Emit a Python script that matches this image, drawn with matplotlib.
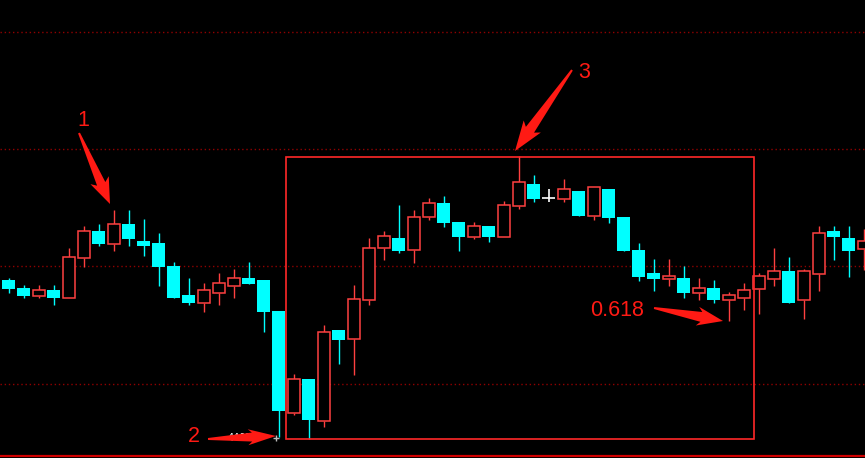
import numpy as np
import matplotlib
matplotlib.use("Agg")
import matplotlib.pyplot as plt
from matplotlib.patches import Rectangle, Polygon

# candle data (chart units, higher = higher price)
opens = [178, 170, 162, 168, 160, 200, 227, 214, 234, 217, 215, 192, 163, 155, 165, 172, 180, 178, 147, 45,
         79, 37, 128, 119, 158, 210, 220, 208, 241, 255, 236, 221, 232, 221, 252, 274, 260, 259, 267, 242,
         269, 241, 208, 185, 179, 180, 165, 170, 158, 160, 169, 179, 187, 158, 184, 227, 220, 209]
highs = [180, 173, 173, 173, 210, 232, 234, 248, 248, 239, 225, 196, 180, 175, 185, 189, 196, 178, 147, 84,
         79, 133, 128, 173, 220, 227, 253, 248, 260, 262, 236, 236, 232, 257, 302, 283, 269, 279, 267, 271,
         269, 241, 215, 199, 199, 192, 180, 178, 166, 175, 185, 210, 201, 189, 232, 232, 232, 229]
lows = [165, 160, 160, 153, 160, 191, 212, 207, 212, 202, 172, 160, 153, 146, 153, 160, 174, 126, 21, 43,
        19, 31, 94, 83, 153, 198, 205, 195, 238, 231, 207, 219, 216, 221, 249, 256, 256, 256, 242, 238,
        235, 207, 177, 167, 172, 160, 158, 155, 137, 148, 144, 172, 155, 139, 167, 198, 181, 188]
closes = [169, 162, 168, 160, 201, 227, 214, 234, 219, 212, 191, 160, 155, 168, 175, 180, 174, 146, 47, 79,
          38, 126, 118, 159, 210, 222, 207, 241, 255, 235, 221, 232, 221, 253, 276, 259, 260, 269, 242, 271,
          240, 207, 181, 179, 182, 165, 170, 158, 163, 168, 182, 187, 155, 187, 225, 221, 207, 217]

UP, DOWN, FLAT = "#ff4040", "#00ffff", "#ffffff"
ARROW = "#ff1a14"
W = 0.87

fig = plt.figure(figsize=(8.65, 4.58), dpi=100, facecolor="black")
ax = fig.add_axes([0, 0, 1, 1], facecolor="black")
ax.set_xlim(-0.567, 57.1)
ax.set_ylim(0, 458)
ax.axis("off")

# dotted grid + bottom border
for g in (426, 309, 192, 74):
    ax.axhline(g, color="#900000", lw=1, ls=(0, (1, 2)), zorder=0)
ax.axhline(2, color="#d00000", lw=1.6, zorder=0)

o, h, l, c = map(np.array, (opens, highs, lows, closes))
x = np.arange(len(o))
up, dn, fl = c > o, c < o, c == o

# bearish: filled cyan
ax.vlines(x[dn], l[dn], h[dn], color=DOWN, lw=1, zorder=2)
ax.bar(x[dn], (o - c)[dn], bottom=c[dn], width=W, color=DOWN, lw=0, zorder=3)
# bullish: hollow red, wicks stop at body
ax.vlines(x[up], c[up], h[up], color=UP, lw=1, zorder=2)
ax.vlines(x[up], l[up], o[up], color=UP, lw=1, zorder=2)
ax.bar(x[up], (c - o)[up], bottom=o[up], width=W - 0.07, facecolor="black",
       edgecolor=UP, lw=1.1, zorder=3)
# doji
ax.vlines(x[fl], l[fl], h[fl], color=FLAT, lw=1.2, zorder=2)
ax.hlines(o[fl], x[fl] - W / 2, x[fl] + W / 2, color=FLAT, lw=1.2, zorder=3)

# overlay in pixel coordinates for annotations
ov = fig.add_axes([0, 0, 1, 1], facecolor="none")
ov.set_xlim(0, 865); ov.set_ylim(458, 0); ov.axis("off")

ov.add_patch(Rectangle((285.5, 156.5), 754 - 285.5, 439 - 156.5, fill=False,
                       edgecolor="#ff2828", lw=1.2, zorder=4))


def arrow(tail, tip, wt, ws, wh, hl):
    t, p = np.array(tail, float), np.array(tip, float)
    u = (p - t) / np.linalg.norm(p - t)
    n = np.array([-u[1], u[0]])
    b = p - u * hl
    pts = [t + n * wt / 2, b + n * ws / 2, b - u * 4 + n * wh / 2, p,
           b - u * 4 - n * wh / 2, b - n * ws / 2, t - n * wt / 2]
    ov.add_patch(Polygon(pts, closed=True, facecolor=ARROW, edgecolor="none", zorder=6))


ov.text(228, 438, "4403", color="white", fontsize=7, va="center", ha="left", zorder=5)
ov.plot([276], [437.5], marker="+", color="#bbbbbb", ms=4, mew=1, zorder=7)

arrow((79, 133), (110, 204), 2, 9, 20, 22)
arrow((572, 70), (515, 151), 2, 10, 21, 26)
arrow((654, 308), (723, 321), 2, 10, 19, 22)
arrow((208, 439), (276, 436), 2, 9, 16, 24)

tk = dict(color=ARROW, fontsize=15.5, family=["Liberation Sans", "DejaVu Sans"],
          ha="center", va="center", zorder=6)
ov.text(83, 121, "1", **tk)
ov.text(194, 437, "2", **tk)
ov.text(584, 72, "3", **tk)
ov.text(617, 310, "0.618", **tk)

fig.savefig("out.png", dpi=100, facecolor="black")
